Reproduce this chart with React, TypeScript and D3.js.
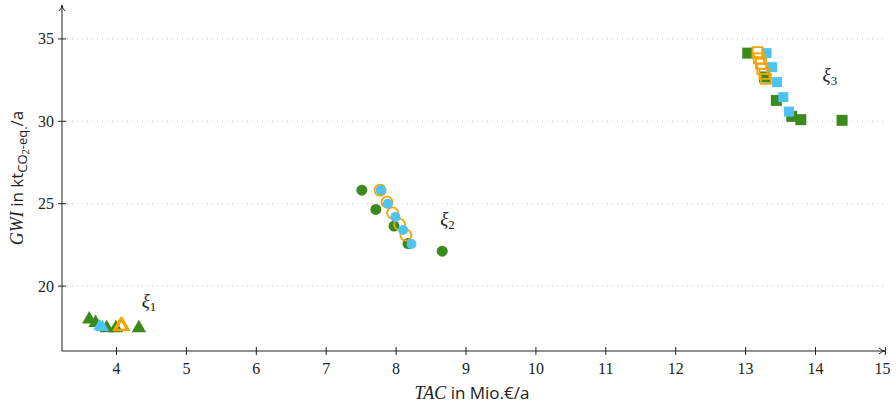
import React from 'react';
import * as d3 from 'd3';

// xi_1 (triangles)
const tri1Green = [[3.61, 18.03], [3.7, 17.82], [3.86, 17.5], [3.99, 17.5], [4.32, 17.5]];
const tri1Blue = [[3.76, 17.6], [3.8, 17.55]];
const tri1Orange = [[4.06, 17.62], [4.08, 17.6]];

// xi_2 (circles)
const circGreen = [[7.51, 25.82], [7.71, 24.65], [7.97, 23.64], [8.17, 22.58], [8.66, 22.12]];
const circOrange = [[7.77, 25.82], [7.87, 25.1], [7.95, 24.44], [8.05, 23.74], [8.14, 23.09]];
const circBlue = [[7.78, 25.82], [7.88, 25.0], [7.99, 24.2], [8.1, 23.4], [8.22, 22.55]];

// xi_3 (squares)
const sqGreen = [[13.03, 34.14], [13.27, 32.69], [13.44, 31.27], [13.66, 30.3], [13.79, 30.1], [14.38, 30.06]];
const sqBlue = [[13.3, 34.14], [13.38, 33.29], [13.45, 32.38], [13.54, 31.47], [13.62, 30.59]];
const sqOrange = [[13.17, 34.2], [13.19, 33.82], [13.22, 33.5], [13.24, 33.18], [13.27, 32.88], [13.29, 32.58]];

const xTicks = [4, 5, 6, 7, 8, 9, 10, 11, 12, 13, 14, 15];
const yTicks = [20, 25, 30, 35];
const clusterLabels = [
  { sub: '1', x: 4.36, y: 18.75 },
  { sub: '2', x: 8.63, y: 23.7 },
  { sub: '3', x: 14.1, y: 32.45 },
];

const GREEN = '#3b8a1e';
const BLUE = '#4dc3f7';
const ORANGE = '#f5a300';
const serif = 'Liberation Serif, DejaVu Serif, serif';
const sans = 'Open Sans, DejaVu Sans, sans-serif';

export default function App() {
  const width = 896;
  const height = 407;
  const x = d3.scaleLinear().domain([3.22, 15]).range([62, 885.4]);
  const y = d3.scaleLinear().domain([16.06, 37.0]).range([351, 6]);

  const x0 = x(3.22);
  const y0 = y(16.06);
  const xEnd = 884;
  const yEnd = 6;

  const triPath = (cx: number, cy: number, s: number) =>
    `M${cx},${cy - s * 0.62}L${cx + s * 0.6},${cy + s * 0.42}L${cx - s * 0.6},${cy + s * 0.42}Z`;

  return (
    <svg width={width} height={height} style={{ position: 'absolute', left: 0, top: 0, background: '#fff' }}>
      {/* grid */}
      {yTicks.map((t) => (
        <line key={'g' + t} x1={x0} x2={xEnd} y1={y(t)} y2={y(t)} stroke="#c8c8c8" strokeWidth={1} strokeDasharray="1,4" />
      ))}

      {/* axes */}
      <line x1={x0} x2={xEnd} y1={y0} y2={y0} stroke="#222" strokeWidth={1} />
      <line x1={x0} x2={x0} y1={y0} y2={yEnd} stroke="#222" strokeWidth={1} />
      <path d={`M${xEnd - 5},${y0 - 3}Q${xEnd - 2},${y0} ${xEnd + 1},${y0}Q${xEnd - 2},${y0} ${xEnd - 5},${y0 + 3}`} fill="none" stroke="#222" strokeWidth={1} />
      <path d={`M${x0 - 3},${yEnd + 5}Q${x0},${yEnd + 2} ${x0},${yEnd - 1}Q${x0},${yEnd + 2} ${x0 + 3},${yEnd + 5}`} fill="none" stroke="#222" strokeWidth={1} />

      {xTicks.map((t) => (
        <g key={'x' + t}>
          <line x1={x(t)} x2={x(t)} y1={y0 - 4} y2={y0 + 4} stroke="#222" strokeWidth={1} />
          <text x={x(t) - (t === 15 ? 3 : 0)} y={y0 + 23} textAnchor="middle" fontFamily={serif} fontSize={16} fill="#222">{t}</text>
        </g>
      ))}
      {yTicks.map((t) => (
        <g key={'y' + t}>
          <line x1={x0 - 4} x2={x0 + 4} y1={y(t)} y2={y(t)} stroke="#222" strokeWidth={1} />
          <text x={x0 - 8} y={y(t) + 5.5} textAnchor="end" fontFamily={serif} fontSize={16} fill="#222">{t}</text>
        </g>
      ))}

      {/* axis titles */}
      <text x={472} y={399} textAnchor="middle" fontSize={18} fill="#222">
        <tspan fontFamily={serif} fontStyle="italic">TAC</tspan>
        <tspan fontFamily={sans} fontSize={17}> in Mio.€/a</tspan>
      </text>
      <text transform="translate(23,178) rotate(-90)" textAnchor="middle" fontSize={18} fill="#222">
        <tspan fontFamily={serif} fontStyle="italic">GWI</tspan>
        <tspan fontFamily={sans} fontSize={17}> in kt</tspan>
        <tspan fontFamily={sans} fontSize={13} dy={4}>CO</tspan>
        <tspan fontFamily={sans} fontSize={9} dy={2}>2</tspan>
        <tspan fontFamily={sans} fontSize={13} dy={-2}>-eq.</tspan>
        <tspan fontFamily={sans} fontSize={17} dy={-4}>/a</tspan>
      </text>

      {/* xi_1 triangles */}
      {tri1Green.map(([a, b], i) => (
        <path key={'tg' + i} d={triPath(x(a), y(b), 12)} fill={GREEN} />
      ))}
      {tri1Blue.map(([a, b], i) => (
        <path key={'tb' + i} d={triPath(x(a), y(b), 11)} fill={BLUE} />
      ))}
      {tri1Orange.map(([a, b], i) => (
        <path key={'to' + i} d={triPath(x(a), y(b), 11)} fill="none" stroke={ORANGE} strokeWidth={2.2} />
      ))}

      {/* xi_2 circles */}
      {circGreen.map(([a, b], i) => (
        <circle key={'cg' + i} cx={x(a)} cy={y(b)} r={5.5} fill={GREEN} />
      ))}
      {circOrange.map(([a, b], i) => (
        <circle key={'co' + i} cx={x(a)} cy={y(b)} r={5.5} fill="none" stroke={ORANGE} strokeWidth={1.8} />
      ))}
      {circBlue.map(([a, b], i) => (
        <circle key={'cb' + i} cx={x(a)} cy={y(b)} r={5} fill={BLUE} />
      ))}

      {/* xi_3 squares */}
      {sqGreen.map(([a, b], i) => (
        <rect key={'sg' + i} x={x(a) - 5.5} y={y(b) - 5.5} width={11} height={11} fill={GREEN} />
      ))}
      {sqBlue.map(([a, b], i) => (
        <rect key={'sb' + i} x={x(a) - 5} y={y(b) - 5} width={10} height={10} fill={BLUE} />
      ))}
      {sqOrange.map(([a, b], i) => (
        <rect key={'so' + i} x={x(a) - 5} y={y(b) - 5} width={10} height={10} fill="none" stroke={ORANGE} strokeWidth={1.8} />
      ))}

      {/* cluster labels */}
      {clusterLabels.map((l) => (
        <text key={l.sub} x={x(l.x)} y={y(l.y)} fontFamily={serif} fontSize={19} fontStyle="italic" fill="#222">
          ξ<tspan fontStyle="normal" fontSize={13} dy={4}>{l.sub}</tspan>
        </text>
      ))}
    </svg>
  );
}
